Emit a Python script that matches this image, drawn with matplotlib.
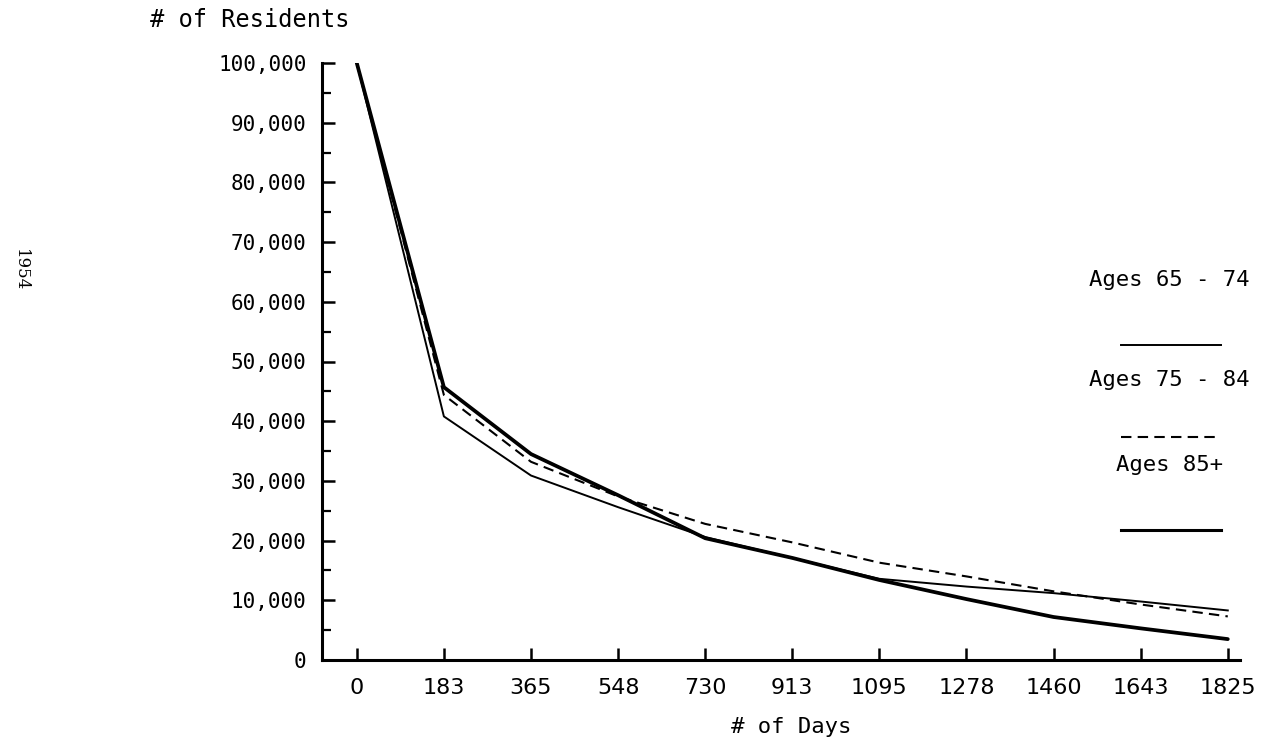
import matplotlib
matplotlib.use("Agg")
import matplotlib.pyplot as plt
from matplotlib.lines import Line2D
from matplotlib.ticker import FuncFormatter, MultipleLocator
import numpy as np

# data
days = ["0", "183", "365", "548", "730", "913", "1095", "1278", "1460", "1643", "1825"]
ages_65_74 = [100000, 40800, 30900, 25600, 20600, 17100, 13600, 12300, 11200, 9800, 8300]
ages_75_84 = [100000, 44400, 33200, 27400, 22800, 19700, 16300, 14000, 11500, 9300, 7300]
ages_85_up = [100000, 45700, 34500, 27600, 20400, 17100, 13400, 10200, 7200, 5300, 3500]

plt.rcParams['font.family'] = ['DejaVu Sans Mono']

fig = plt.figure(figsize=(12.71, 7.5), dpi=100)
ax = fig.add_axes([0.2533, 0.12, 0.7223, 0.796])

x = np.arange(len(days))
ax.plot(x, ages_65_74, color='black', lw=1.4, solid_joinstyle='round')
ax.plot(x, ages_75_84, color='black', lw=1.5, dashes=(5, 3))
ax.plot(x, ages_85_up, color='black', lw=2.7, solid_joinstyle='round',
        solid_capstyle='round')

ax.set_xlim(-0.40, 10.14)
ax.set_ylim(0, 100000)
ax.set_xticks(x)
ax.set_xticklabels(days, family='DejaVu Sans', fontsize=16)
ax.yaxis.set_major_locator(MultipleLocator(10000))
ax.yaxis.set_minor_locator(MultipleLocator(5000))
ax.yaxis.set_major_formatter(FuncFormatter(lambda v, p: f"{int(v):,}"))

for s in ['top', 'right']:
    ax.spines[s].set_visible(False)
for s in ['left', 'bottom']:
    ax.spines[s].set_linewidth(2.2)

ax.tick_params(axis='y', which='major', direction='in', length=9.5, width=1.8,
               labelsize=15, pad=11)
ax.tick_params(axis='y', which='minor', direction='in', length=6.5, width=1.6)
ax.tick_params(axis='x', which='major', direction='in', length=9, width=1.8,
               pad=13)

ax.set_xlabel("# of Days", fontsize=16)
ax.xaxis.set_label_coords(0.511, -0.095)
fig.text(0.118, 0.973, "# of Residents", fontsize=17, ha='left', va='center')
fig.text(0.016, 0.64, "1954", fontsize=12, family='DejaVu Serif',
         rotation=-90, ha='center', va='center')

# legend drawn by hand on the right side
labels = ["Ages 65 - 74", "Ages 75 - 84", "Ages 85+"]
styles = [dict(lw=1.4), dict(lw=1.5, dashes=(5, 3)), dict(lw=2.2)]
text_y = [0.627, 0.493, 0.38]
line_y = [0.54, 0.417, 0.293]
for lab, st, ty, ly in zip(labels, styles, text_y, line_y):
    fig.text(0.920, ty, lab, fontsize=16, ha='center', va='center')
    fig.add_artist(Line2D([0.882, 0.961], [ly, ly], transform=fig.transFigure,
                          color='black', **st))

fig.savefig("out.png", dpi=100)
